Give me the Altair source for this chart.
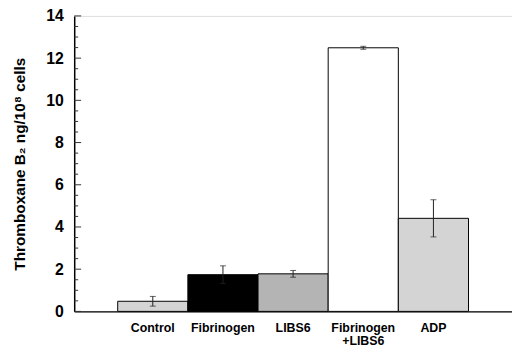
import altair as alt
import pandas as pd

categories = ["Control", "Fibrinogen", "LIBS6", "Fibrinogen\n+LIBS6", "ADP"]
means = [0.48, 1.74, 1.78, 12.49, 4.41]
errors = [0.23, 0.42, 0.16, 0.07, 0.88]
fills = ["#d4d4d4", "#000000", "#b4b4b4", "#ffffff", "#d4d4d4"]
y_major = [0, 2, 4, 6, 8, 10, 12, 14]
y_minor = [0.5, 1, 1.5, 2.5, 3, 3.5, 4.5, 5, 5.5, 6.5, 7, 7.5, 8.5, 9, 9.5,
           10.5, 11, 11.5, 12.5, 13, 13.5]

df = pd.DataFrame({"cat": categories, "mean": means, "err": errors})
df["lo"] = df["mean"] - df["err"]
df["hi"] = df["mean"] + df["err"]

FONT = "Liberation Sans"
ytitle = "Thromboxane B\u2082 ng/10\u2078 cells"

yscale = alt.Scale(domain=[0, 14], nice=False, zero=True)
xscale = alt.Scale(paddingInner=0, paddingOuter=0.62)

xenc = alt.X("cat:N", sort=categories, scale=xscale,
             axis=alt.Axis(title=None, labelAngle=0, ticks=False,
                           labelExpr="split(datum.label, '\\n')",
                           labelFont=FONT, labelFontSize=12.5, labelFontWeight="bold",
                           labelColor="black", labelPadding=10, labelLineHeight=14,
                           domainColor="black", domainWidth=1.2))

bars = alt.Chart(df).mark_bar(stroke="black", strokeWidth=1).encode(
    x=xenc,
    y=alt.Y("mean:Q", scale=yscale,
            axis=alt.Axis(title=ytitle, values=y_major, ticks=False, grid=False,
                          labelFont=FONT, labelFontSize=16, labelFontWeight="bold",
                          labelColor="black", labelPadding=11,
                          titleFont=FONT, titleFontSize=15.5, titleFontWeight="bold",
                          titleColor="black", titlePadding=19,
                          domainColor="black", domainWidth=1.5)),
    fill=alt.Fill("cat:N", sort=categories,
                  scale=alt.Scale(domain=categories, range=fills), legend=None),
)

err_rule = alt.Chart(df).mark_rule(color="#222222", strokeWidth=1).encode(
    x=alt.X("cat:N", sort=categories, scale=xscale),
    y=alt.Y("lo:Q", scale=yscale), y2="hi:Q")
cap_lo = alt.Chart(df).mark_tick(color="#222222", thickness=1, size=6, orient="horizontal").encode(
    x=alt.X("cat:N", sort=categories, scale=xscale), y=alt.Y("lo:Q", scale=yscale))
cap_hi = alt.Chart(df).mark_tick(color="#222222", thickness=1, size=6, orient="horizontal").encode(
    x=alt.X("cat:N", sort=categories, scale=xscale), y=alt.Y("hi:Q", scale=yscale))

major = alt.Chart(pd.DataFrame({"v": y_major})).mark_rule(color="#333333", strokeWidth=1).encode(
    y=alt.Y("v:Q", scale=yscale), x=alt.value(0), x2=alt.value(7))
minor = alt.Chart(pd.DataFrame({"v": y_minor})).mark_rule(color="#333333", strokeWidth=1).encode(
    y=alt.Y("v:Q", scale=yscale), x=alt.value(0), x2=alt.value(4))

chart = alt.layer(bars, major, minor, err_rule, cap_lo, cap_hi).properties(
    width=443, height=299,
    autosize=alt.AutoSizeParams(type="none"),
    padding={"left": 67, "top": 6, "right": 0, "bottom": 34},
).configure_view(stroke="black", strokeWidth=1).configure(background="white")

chart.save("out.html", embed_options={"renderer": "svg", "actions": False})
